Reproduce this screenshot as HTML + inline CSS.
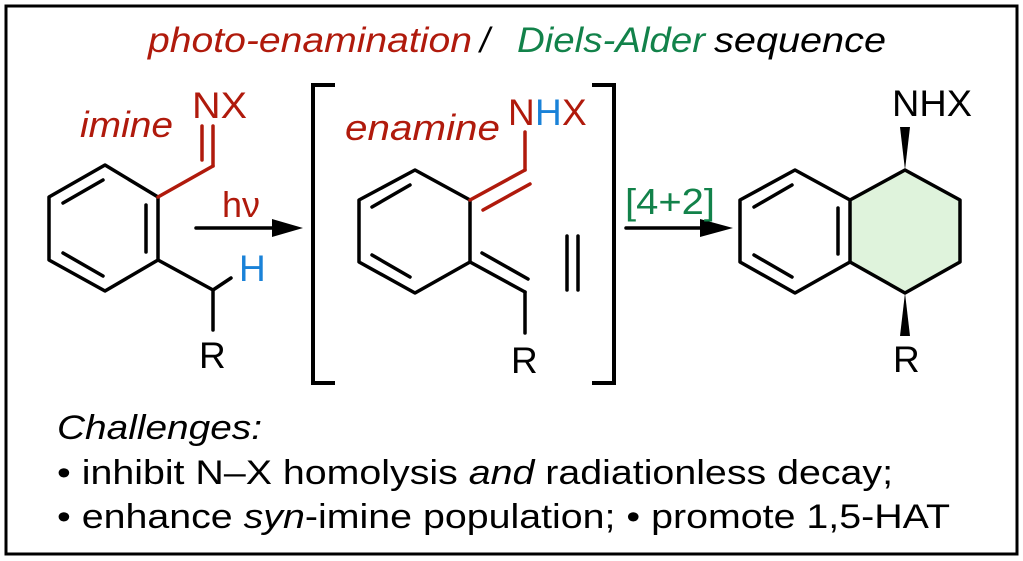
<!DOCTYPE html>
<html><head><meta charset="utf-8"><style>
html,body{margin:0;padding:0;background:#fff;}
svg{display:block;}
text{font-family:"Liberation Sans",Arial,sans-serif;}
</style></head><body>
<svg width="1023" height="561" viewBox="0 0 1023 561" xmlns="http://www.w3.org/2000/svg">
<rect x="6" y="6" width="1011" height="548" fill="#fff" stroke="#000" stroke-width="3"/>
<text x="148" y="52" font-size="35" font-style="italic" fill="#b01a0c" textLength="324" lengthAdjust="spacingAndGlyphs">photo-enamination</text>
<text x="480" y="52" font-size="35" font-style="italic" fill="#000">/</text>
<text x="517" y="52" font-size="35" font-style="italic" fill="#12824a" textLength="188" lengthAdjust="spacingAndGlyphs">Diels-Alder</text>
<text x="714" y="52" font-size="35" font-style="italic" fill="#000" textLength="172" lengthAdjust="spacingAndGlyphs">sequence</text>

<g stroke="#000" stroke-width="3.5" fill="none" stroke-linecap="round" stroke-linejoin="round">
<polygon points="105,165 158,197 158,260 105,291 49,260 49,197"/>
<line x1="63" y1="203" x2="103" y2="180"/>
<line x1="146" y1="205" x2="146" y2="252"/>
<line x1="63" y1="253" x2="103" y2="276"/>
<line x1="158" y1="260" x2="213" y2="290"/>
<line x1="213" y1="290" x2="231" y2="278"/>
<line x1="213" y1="290" x2="213" y2="330"/>
<line x1="196" y1="228" x2="280" y2="228"/>
<polyline points="335,85 313,85 313,383 335,383" stroke-linecap="butt" stroke-linejoin="miter" stroke-width="4"/>
<polyline points="592,85 614,85 614,383 592,383" stroke-linecap="butt" stroke-linejoin="miter" stroke-width="4"/>
<polyline points="470,200 415,170 359,200 359,262 415,293 470,262 470,200"/>
<line x1="372" y1="207" x2="410" y2="185"/>
<line x1="372" y1="255" x2="410" y2="277"/>
<line x1="470" y1="262" x2="525" y2="292"/>
<line x1="482" y1="253" x2="528" y2="279"/>
<line x1="525" y1="292" x2="525" y2="333"/>
<line x1="567" y1="236" x2="567" y2="290"/>
<line x1="578" y1="236" x2="578" y2="290"/>
<line x1="626" y1="228" x2="705" y2="228"/>
</g>
<polygon points="272,219 303,228 272,237" fill="#000"/>
<polygon points="700,219 733,228 700,237" fill="#000"/>
<g stroke="#b01a0c" stroke-width="3.5" fill="none" stroke-linecap="round">
<line x1="158" y1="197" x2="213" y2="166"/>
<line x1="202" y1="126" x2="202" y2="160"/>
<line x1="213" y1="126" x2="213" y2="166"/>
<line x1="470" y1="200" x2="525" y2="170"/>
<line x1="483" y1="210" x2="530" y2="184"/>
<line x1="525" y1="170" x2="525" y2="132"/>
</g>
<polygon points="850,200 905,170 960,200 960,262 905,293 850,262" fill="#dff3dc"/>
<g stroke="#000" stroke-width="3.5" fill="none" stroke-linecap="round" stroke-linejoin="round">
<polygon points="795,170 850,200 850,262 795,293 740,262 740,200"/>
<polyline points="850,200 905,170 960,200 960,262 905,293 850,262"/>
<line x1="754" y1="207" x2="792" y2="185"/>
<line x1="838" y1="208" x2="838" y2="254"/>
<line x1="754" y1="255" x2="792" y2="277"/>
</g>
<polygon points="905,170 900,127 910,127" fill="#000"/>
<polygon points="905,293 900,336 910,336" fill="#000"/>

<text x="80" y="137" font-size="36" font-style="italic" fill="#b01a0c" textLength="93" lengthAdjust="spacingAndGlyphs">imine</text>
<text x="192" y="118" font-size="37" fill="#b01a0c" textLength="55" lengthAdjust="spacingAndGlyphs">NX</text>
<text x="239" y="281" font-size="37" fill="#1a82d8">H</text>
<text x="199" y="368" font-size="37" fill="#000">R</text>
<text x="222" y="217" font-size="36" fill="#b01a0c" textLength="38" lengthAdjust="spacingAndGlyphs">hν</text>
<text x="345" y="140" font-size="36" font-style="italic" fill="#b01a0c" textLength="155" lengthAdjust="spacingAndGlyphs">enamine</text>
<text x="508" y="125" font-size="37" fill="#b01a0c">N</text><text x="535" y="125" font-size="37" fill="#1a82d8">H</text><text x="562" y="125" font-size="37" fill="#b01a0c">X</text>
<text x="511" y="373" font-size="37" fill="#000">R</text>
<text x="625" y="214" font-size="36" fill="#12824a" textLength="90" lengthAdjust="spacingAndGlyphs">[4+2]</text>
<text x="892" y="116" font-size="37" fill="#000" textLength="80" lengthAdjust="spacingAndGlyphs">NHX</text>
<text x="893" y="372" font-size="37" fill="#000">R</text>

<text x="57" y="439" font-size="34" font-style="italic" fill="#000" textLength="205" lengthAdjust="spacingAndGlyphs">Challenges:</text>
<text x="57" y="484" font-size="34" fill="#000" textLength="836" lengthAdjust="spacingAndGlyphs">• inhibit N–X homolysis <tspan font-style="italic">and</tspan> radiationless decay;</text>
<text x="57" y="528" font-size="34" fill="#000" textLength="893" lengthAdjust="spacingAndGlyphs">• enhance <tspan font-style="italic">syn</tspan>-imine population; • promote 1,5-HAT</text>
</svg>
</body></html>
